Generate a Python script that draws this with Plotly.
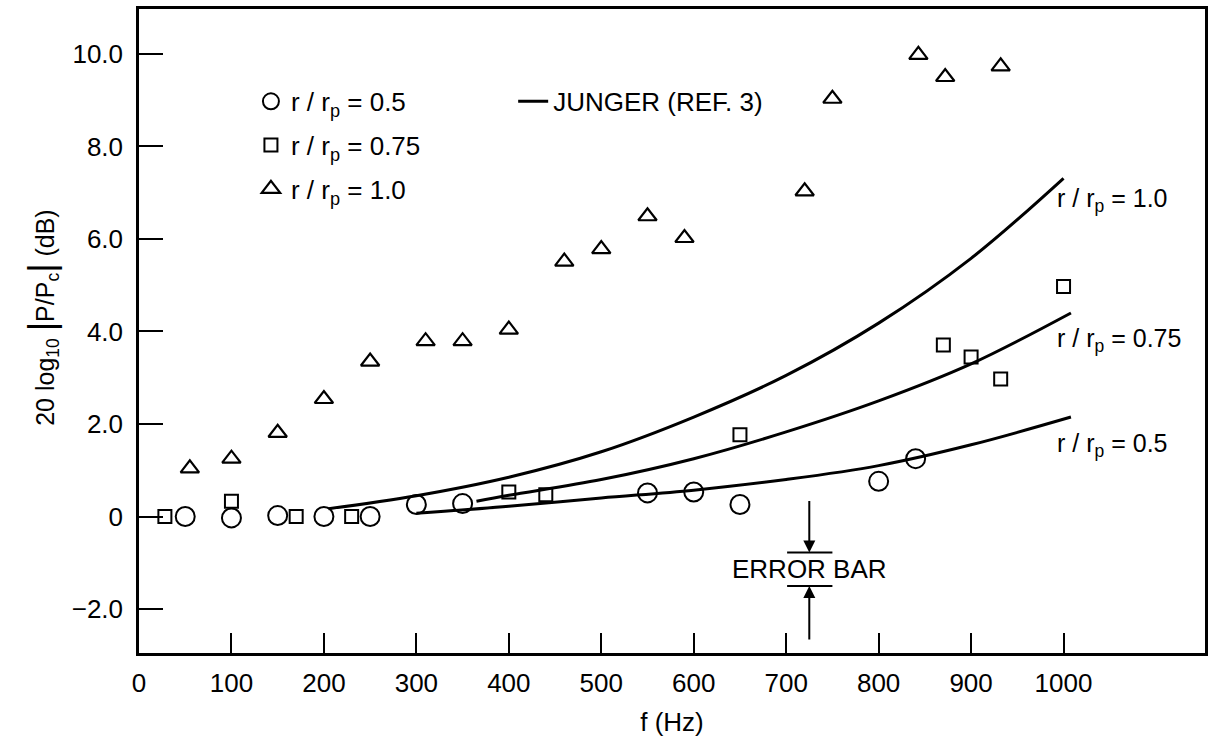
import plotly.graph_objects as go

# ---------------- data ----------------
F_R05 = [50, 100, 150, 200, 250, 300, 350, 550, 600, 650, 800, 840]
V_R05 = [0.0, -0.03, 0.02, 0.0, 0.0, 0.26, 0.28, 0.51, 0.53, 0.26, 0.76, 1.25]

F_R075 = [28, 100, 170, 230, 400, 440, 650, 870, 900, 932, 1000]
V_R075 = [0.0, 0.33, 0.0, 0.0, 0.53, 0.47, 1.77, 3.71, 3.45, 2.97, 4.97]

F_R10 = [55, 100, 150, 200, 250, 310, 350, 400, 460, 500, 550, 590, 720, 750, 843, 872, 932]
V_R10 = [1.04, 1.25, 1.81, 2.54, 3.35, 3.79, 3.79, 4.04, 5.51, 5.78, 6.49, 6.02, 7.03, 9.03, 9.98, 9.50, 9.73]

# Junger (Ref. 3) theory curves
JF_10 = [205, 300, 400, 500, 600, 700, 800, 900, 1000]
JV_10 = [0.17, 0.45, 0.85, 1.40, 2.15, 3.05, 4.18, 5.58, 7.31]
JF_075 = [365, 400, 500, 600, 700, 800, 900, 1008]
JV_075 = [0.33, 0.46, 0.80, 1.25, 1.83, 2.50, 3.30, 4.40]
JF_05 = [300, 400, 500, 600, 700, 800, 900, 1008]
JV_05 = [0.07, 0.22, 0.40, 0.57, 0.80, 1.10, 1.55, 2.15]

X_TICKS = [0, 100, 200, 300, 400, 500, 600, 700, 800, 900, 1000]
Y_TICKS = [-2, 0, 2, 4, 6, 8, 10]
Y_TICKTEXT = ["\u22122.0", "0", "2.0", "4.0", "6.0", "8.0", "10.0"]

# error bar annotation (f position, bar levels, arrow tails)
ERR_F = [725]
ERR_BAR_F = [701, 750]
ERR_LEVELS = [-0.78, -1.50]
ERR_TAILS = [0.37, -2.69]

FONT = "Liberation Sans, Arial, sans-serif"
BLACK = "black"

fig = go.Figure()

fig.add_trace(go.Scatter(
    x=F_R05, y=V_R05, mode="markers", name="r / r<sub>p</sub> = 0.5",
    legend="legend", legendgroup="g1",
    marker=dict(symbol="circle-open", size=19, color=BLACK, line=dict(width=2))))
fig.add_trace(go.Scatter(
    x=F_R075, y=V_R075, mode="markers", name="r / r<sub>p</sub> = 0.75",
    legend="legend", legendgroup="g2",
    marker=dict(symbol="square-open", size=13, color=BLACK, line=dict(width=2))))
fig.add_trace(go.Scatter(
    x=F_R10, y=V_R10, mode="markers", name="r / r<sub>p</sub> = 1.0",
    legend="legend", legendgroup="g3",
    marker=dict(symbol="triangle-up-open", size=16, color=BLACK, line=dict(width=2.2))))

fig.add_trace(go.Scatter(
    x=JF_10, y=JV_10, mode="lines", name="JUNGER (REF. 3)", legend="legend2",
    line=dict(color=BLACK, width=3, shape="spline", smoothing=1.0)))
fig.add_trace(go.Scatter(
    x=JF_075, y=JV_075, mode="lines", showlegend=False,
    line=dict(color=BLACK, width=3, shape="spline", smoothing=1.0)))
fig.add_trace(go.Scatter(
    x=JF_05, y=JV_05, mode="lines", showlegend=False,
    line=dict(color=BLACK, width=3, shape="spline", smoothing=1.0)))

annotations = []
# curve labels
for lbl, yv in [("1.0", 6.85), ("0.75", 3.82), ("0.5", 1.55)]:
    annotations.append(dict(
        x=991, y=yv, xref="x", yref="y", xanchor="left", yanchor="middle",
        text="r / r<sub>p</sub> = " + lbl, showarrow=False,
        font=dict(family=FONT, size=25, color=BLACK)))

# error bar text and arrows
annotations.append(dict(
    x=ERR_F[0], y=(ERR_LEVELS[0] + ERR_LEVELS[1]) / 2, xref="x", yref="y",
    text="ERROR BAR", showarrow=False, xanchor="center", yanchor="middle",
    font=dict(family=FONT, size=26, color=BLACK)))
for lvl, tail in zip(ERR_LEVELS, ERR_TAILS):
    annotations.append(dict(
        x=ERR_F[0], y=lvl, ax=ERR_F[0], ay=tail, xref="x", yref="y",
        axref="x", ayref="y", text="", showarrow=True,
        arrowhead=2, arrowsize=1.2, arrowwidth=2, arrowcolor=BLACK))

# y-axis title
annotations.append(dict(
    x=-0.091, y=0.522, xref="paper", yref="paper", textangle=-90,
    xanchor="center", yanchor="middle", showarrow=False,
    text="20 log<sub>10</sub> <span style='font-size:36px'>|</span>P/P<sub>c</sub><span style='font-size:36px'>|</span> (dB)",
    font=dict(family=FONT, size=25, color=BLACK)))

shapes = []
for lvl in ERR_LEVELS:
    shapes.append(dict(type="line", xref="x", yref="y",
                       x0=ERR_BAR_F[0], x1=ERR_BAR_F[1], y0=lvl, y1=lvl,
                       line=dict(color=BLACK, width=2)))

fig.update_layout(
    width=1214, height=740,
    margin=dict(l=139, r=6, t=9, b=87),
    paper_bgcolor="white", plot_bgcolor="white",
    font=dict(family=FONT, size=26, color=BLACK),
    annotations=annotations, shapes=shapes,
    legend=dict(x=0.105, y=0.893, xanchor="left", yanchor="top",
                bgcolor="rgba(0,0,0,0)", tracegroupgap=7,
                font=dict(family=FONT, size=26, color=BLACK)),
    legend2=dict(x=0.351, y=0.893, xanchor="left", yanchor="top",
                 bgcolor="rgba(0,0,0,0)",
                 font=dict(family=FONT, size=26, color=BLACK)),
    xaxis=dict(range=[0, 1153], tickvals=X_TICKS, ticks="inside", ticklen=20,
               tickwidth=2, tickcolor=BLACK, showline=True, linewidth=2.5,
               linecolor=BLACK, mirror=True, showgrid=False, zeroline=False,
               ticklabelstandoff=5,
               title=dict(text="f (Hz)", standoff=16,
                          font=dict(family=FONT, size=26, color=BLACK)),
               tickfont=dict(family=FONT, size=26, color=BLACK)),
    yaxis=dict(range=[-2.95, 10.97], tickvals=Y_TICKS, ticktext=Y_TICKTEXT,
               ticks="inside", ticklen=24, tickwidth=2, tickcolor=BLACK,
               showline=True, linewidth=2.5, linecolor=BLACK, mirror=True,
               showgrid=False, zeroline=False, ticklabelstandoff=8,
               tickfont=dict(family=FONT, size=26, color=BLACK)),
)

fig.write_html("out.html")
